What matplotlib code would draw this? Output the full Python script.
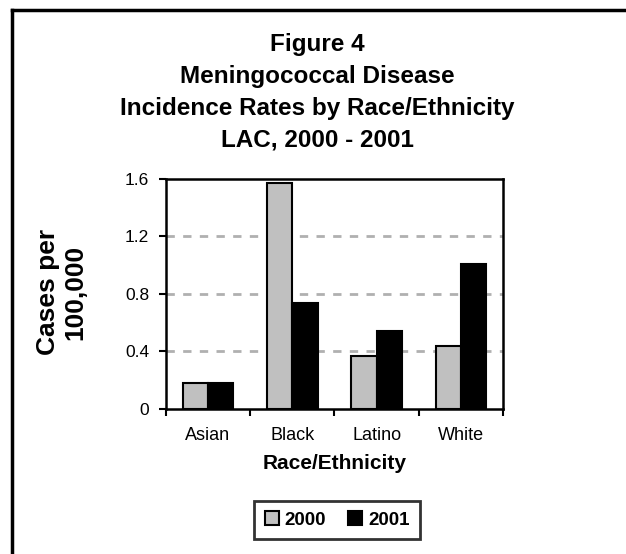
import numpy as np
from matplotlib import pyplot as plt
from matplotlib.lines import Line2D

plt.rcParams['font.family'] = ['Liberation Sans', 'DejaVu Sans']

groups = ['Asian', 'Black', 'Latino', 'White']
rates_2000 = [0.18, 1.57, 0.37, 0.44]
rates_2001 = [0.18, 0.735, 0.545, 1.01]
years = ['2000', '2001']

fig = plt.figure(figsize=(6.26, 5.54), dpi=100)
ax = fig.add_axes([0.265, 0.262, 0.5385, 0.415])

x = np.arange(len(groups))
w = 0.3
ax.bar(x - w/2, rates_2000, w, color='#c0c0c0', edgecolor='black', linewidth=1.5, label=years[0], zorder=3)
ax.bar(x + w/2, rates_2001, w, color='black', edgecolor='black', linewidth=1.5, label=years[1], zorder=3)

ax.set_xlim(-0.5, 3.5)
ax.set_ylim(0, 1.6)
ax.set_yticks([0, 0.4, 0.8, 1.2, 1.6])
ax.set_yticklabels(['0', '0.4', '0.8', '1.2', '1.6'])
ax.set_xticks(np.arange(-0.5, 4.0, 1.0))
ax.set_xticklabels([])
ax.set_xticks(x, minor=True)
ax.set_xticklabels(groups, minor=True)
ax.tick_params(axis='x', which='minor', length=0, pad=13, labelsize=13)
ax.tick_params(axis='x', which='major', length=5, width=1.5)
ax.tick_params(axis='y', length=5, width=1.5, labelsize=12.5, pad=7)
for yv in [0.4, 0.8, 1.2]:
    ax.axhline(yv, color='#b0b0b0', linestyle=(0, (3, 3)), linewidth=2, zorder=1)
for s in ax.spines.values():
    s.set_linewidth(1.8)

ax.set_xlabel('Race/Ethnicity', fontsize=15, fontweight='bold', labelpad=7)
fig.text(0.099, 0.473, 'Cases per\n100,000', rotation=90, ha='center', va='center',
         fontsize=19, fontweight='bold', linespacing=1.2)

title = ['Figure 4', 'Meningococcal Disease', 'Incidence Rates by Race/Ethnicity', 'LAC, 2000 - 2001']
for i, t in enumerate(title):
    fig.text(0.507, 1 - (50.5 + 32.1 * i) / 554, t, ha='center', va='baseline', fontsize=17.5, fontweight='bold')

leg = fig.legend(loc='center', bbox_to_anchor=(337 / 626, 1 - 520 / 554), ncol=2, frameon=True, fancybox=False,
                 prop={'size': 13.5, 'weight': 'bold'}, handlelength=0.75, handleheight=0.75,
                 handletextpad=0.3, columnspacing=1.2, borderpad=0.55, edgecolor='black')
leg.get_frame().set_linewidth(2)

# outer frame (left and top only)
fig.add_artist(Line2D([11.5/626, 11.5/626], [0, 1 - 9.5/554], transform=fig.transFigure, color='black', linewidth=2.5))
fig.add_artist(Line2D([11.5/626, 1], [1 - 9.5/554, 1 - 9.5/554], transform=fig.transFigure, color='black', linewidth=2.5))

fig.savefig('out.png', dpi=100)
